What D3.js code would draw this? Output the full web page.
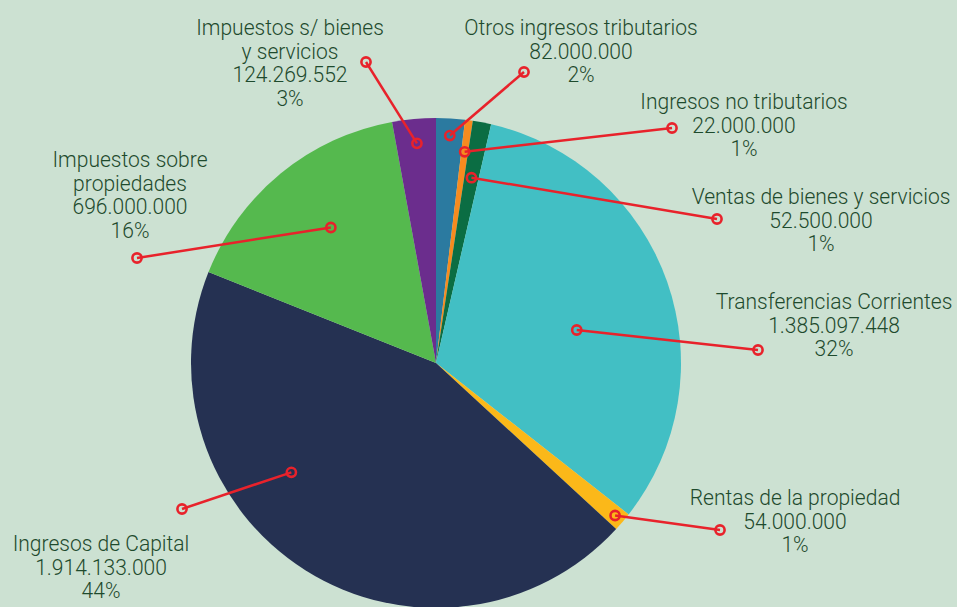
<!DOCTYPE html>
<html><head><meta charset="utf-8">
<script src="https://cdn.jsdelivr.net/npm/d3@7"></script>
<style>html,body{margin:0;padding:0;background:#cce1d2;}svg{display:block;}</style>
</head><body>
<script>
// ---- data ----
const categories = [
  "Otros ingresos tributarios",
  "Ingresos no tributarios",
  "Ventas de bienes y servicios",
  "Transferencias Corrientes",
  "Rentas de la propiedad",
  "Ingresos de Capital",
  "Impuestos sobre\npropiedades",
  "Impuestos s/ bienes\ny servicios"
];
const values = [82000000, 22000000, 52500000, 1385097448, 54000000, 1914133000, 696000000, 124269552];
const colors = ["#2b7aa0", "#f68b1f", "#0b6d43", "#42bfc4", "#fbb819", "#253152", "#55b94e", "#6b2d8d"];

// ---- layout (label placement) ----
const labelLayout = [
  {cx: 581, y: 35,  ox: 524, oy: 72,  t: 0.51, rf: 0.93},
  {cx: 744, y: 109, ox: 672, oy: 128, t: 0.5,  rf: 0.87},
  {cx: 821, y: 204, ox: 717, oy: 219, t: 0.5,  rf: 0.77},
  {cx: 834, y: 309, ox: 758, oy: 350, t: 0.554,rf: 0.59},
  {cx: 795, y: 505, ox: 720, oy: 530, t: 0.5,  rf: 0.96},
  {cx: 101, y: 551, ox: 182, oy: 509, t: 0.63, rf: 0.74},
  {cx: 130, y: 167, ox: 137, oy: 258, t: 0.525,rf: 0.70},
  {cx: 290, y: 35,  ox: 366, oy: 62,  t: 0.52, rf: 0.90}
];

const W = 957, H = 607, cx = 436, cy = 363, R = 245;
const total = d3.sum(values);
const loc = d3.formatLocale({decimal: ",", thousands: ".", grouping: [3], currency: ["$", ""]});
const fmt = loc.format(",d");

const svg = d3.select("body").append("svg").attr("width", W).attr("height", H);
svg.append("rect").attr("width", W).attr("height", H).attr("fill", "#cce1d2");

const pie = d3.pie().sort(null).value(d => d)(values);
const arc = d3.arc().innerRadius(0).outerRadius(R);
const g = svg.append("g").attr("transform", `translate(${cx},${cy})`);
g.selectAll("path").data(pie).join("path")
  .attr("d", arc).attr("fill", (d, i) => colors[i]);

// leader lines
const red = "#e8222b";
pie.forEach((d, i) => {
  const L = labelLayout[i];
  const a = d.startAngle + (d.endAngle - d.startAngle) * L.t;
  const ix = cx + Math.sin(a) * R * L.rf, iy = cy - Math.cos(a) * R * L.rf;
  svg.append("line").attr("x1", ix).attr("y1", iy).attr("x2", L.ox).attr("y2", L.oy)
    .attr("stroke", red).attr("stroke-width", 2.5);
  [[ix, iy], [L.ox, L.oy]].forEach(p => svg.append("circle").attr("cx", p[0]).attr("cy", p[1])
    .attr("r", 4.6).attr("fill", "none").attr("stroke", red).attr("stroke-width", 2.6));
});

// labels
const lh = 23.7;
const labels = [];
pie.forEach((d, i) => {
  const L = labelLayout[i];
  const lines = categories[i].split("\n").concat([fmt(values[i]), Math.round(values[i] / total * 100) + "%"]);
  const grp = svg.append("g");
  const t = grp.append("text").attr("text-anchor", "middle")
    .attr("font-family", "Roboto").attr("font-weight", 300).attr("font-size", 22).attr("fill", "#1e4a2d");
  lines.forEach((s, j) => t.append("tspan").attr("x", 0).attr("y", j * lh).text(s));
  labels.push({grp, t, L});
});
// condensed look: horizontal compression
const ref = labels[3].t.node().getBBox().width;
const k = 236.7 / ref;
labels.forEach(o => o.grp.attr("transform", `translate(${o.L.cx},${o.L.y}) scale(${k},1)`));
</script>
</body></html>
